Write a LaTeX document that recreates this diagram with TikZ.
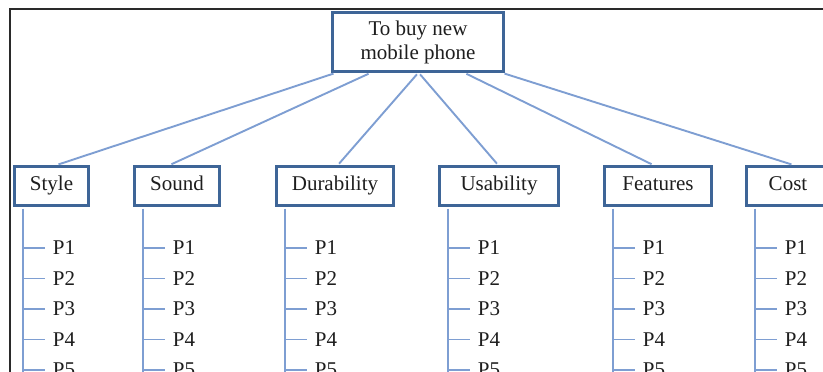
\documentclass[tikz,border=0pt]{standalone}
\usepackage{fontspec}
\setmainfont{Liberation Serif}
\usetikzlibrary{positioning, calc}
\definecolor{boxblue}{HTML}{3E6597}
\definecolor{linkblue}{HTML}{7E9ED2}
\definecolor{framegray}{HTML}{2A2A2A}
\definecolor{inkblack}{HTML}{1E1E1E}

\begin{document}
\begin{tikzpicture}[x=1pt, y=-1pt, font=\fontsize{21}{24}\selectfont, text=inkblack,
    goalbox/.style={draw=boxblue, line width=3.2pt, fill=white, align=center,
                    inner sep=0pt, minimum width=171pt, minimum height=59pt},
    critbox/.style={draw=boxblue, line width=3.2pt, fill=white, inner sep=0pt,
                    text height=14pt, text depth=5pt, minimum height=39pt},
    link/.style={draw=linkblue, line width=1.9pt}]
    \useasboundingbox (0,0) rectangle (823,372);
    \clip (0,0) rectangle (823,372);
    \draw[framegray, line width=1.6pt] (10,400) -- (10,9) -- (850,9);

    % goal and criteria
    \node[goalbox] (goal) at (418,42) {To buy new\\mobile phone};
    \node[critbox, minimum width=74pt]  (style) at (51.5,186) {Style};
    \node[critbox, minimum width=85pt]  (sound) at (177,186)  {Sound};
    \node[critbox, minimum width=117pt] (dura)  at (335,186)  {Durability};
    \node[critbox, minimum width=119pt] (usab)  at (499,186)  {Usability};
    \node[critbox, minimum width=107pt] (feat)  at (658,186)  {Features};
    \node[critbox, minimum width=83pt]  (cost)  at (788,186)  {Cost};

    % links from the goal
    \foreach \n/\s/\e in {style/-83/5.5, sound/-48/-7, dura/0/3,
                          usab/1/-1, feat/47/-5, cost/85/5}
        \draw[link, shorten <=1.6pt, shorten >=1.6pt]
            ([xshift=\s pt]goal.south) -- ([xshift=\e pt]\n.north);

    % alternatives under each criterion
    \foreach \n in {style, sound, dura, usab, feat, cost} {
        \coordinate (\n-top) at ([xshift=10.5pt]\n.south west);
        \coordinate (\n-end) at ([yshift=-220pt]\n-top);
        \draw[link, shorten <=1.6pt] (\n-top) -- (\n-end);
        \foreach \i in {1,...,5} {
            \pgfmathsetmacro{\py}{248+30.5*(\i-1)}
            \coordinate (\n-t\i) at (\n-top |- 0,\py);
            \node[anchor=west] (\n-p\i) at ([xshift=26pt]\n-t\i) {P\i};
            \draw[link, shorten >=4pt] (\n-t\i) -- (\n-p\i.west);
        }
    }
\end{tikzpicture}
\end{document}
